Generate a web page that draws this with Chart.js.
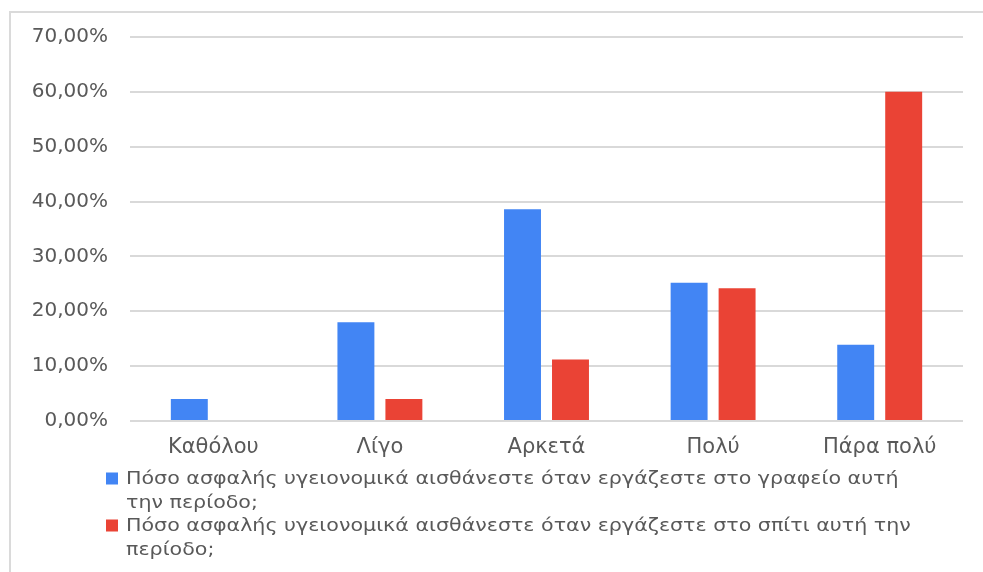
<!DOCTYPE html>
<html>
<head>
<meta charset="utf-8">
<style>
  html, body { margin: 0; padding: 0; background: #ffffff; }
  #wrap { width: 983px; height: 572px; position: relative; }
</style>
<script src="https://cdn.jsdelivr.net/npm/chart.js@4/dist/chart.umd.min.js"></script>
</head>
<body>
<div id="wrap"><canvas id="chart" width="983" height="572"></canvas></div>
<script>
// Categories and series (percent of respondents)
const categories = ["Καθόλου", "Λίγο", "Αρκετά", "Πολύ", "Πάρα πολύ"];
const officeValues = [4.0, 18.0, 38.6, 25.2, 13.9];
const homeValues = [0, 4.0, 11.2, 24.2, 60.0];
const officeLabelLines = ["Πόσο ασφαλής υγειονομικά αισθάνεστε όταν εργάζεστε στο γραφείο αυτή", "την περίοδο;"];
const homeLabelLines = ["Πόσο ασφαλής υγειονομικά αισθάνεστε όταν εργάζεστε στο σπίτι αυτή την", "περίοδο;"];
const yMin = 0, yMax = 70, yStep = 10;

const textColor = "#595959";
const gridColor = "#d9d9d9";
const fontFamily = "'DejaVu Sans', sans-serif";

// Light frame along the top and left edges of the chart box
const framePlugin = {
  id: "frame",
  beforeDraw(chart) {
    const ctx = chart.ctx;
    ctx.save();
    ctx.strokeStyle = "#dadada";
    ctx.lineWidth = 2;
    ctx.beginPath();
    ctx.moveTo(chart.width, 12);
    ctx.lineTo(10, 12);
    ctx.lineTo(10, chart.height);
    ctx.stroke();
    ctx.restore();
  }
};

// Legend below the plot, one wrapped entry per dataset (text set slightly wide)
const wrappedLegendPlugin = {
  id: "wrappedLegend",
  afterDraw(chart) {
    const ctx = chart.ctx;
    const area = chart.chartArea;
    const lineStep = 23.5;
    const textX = 126;
    const stretch = 1.145;
    let y = area.bottom + 58.5;
    ctx.save();
    ctx.font = "18px " + fontFamily;
    ctx.textBaseline = "middle";
    ctx.textAlign = "left";
    chart.data.datasets.forEach(ds => {
      ctx.fillStyle = ds.backgroundColor;
      ctx.fillRect(106, y - 7, 12, 12);
      ctx.fillStyle = textColor;
      ds.legendLines.forEach((line, i) => {
        ctx.save();
        ctx.translate(textX, y + i * lineStep);
        ctx.scale(stretch, 1);
        ctx.fillText(line, 0, 0);
        ctx.restore();
      });
      y += ds.legendLines.length * lineStep;
    });
    ctx.restore();
  }
};

new Chart(document.getElementById("chart"), {
  type: "bar",
  data: {
    labels: categories,
    datasets: [
      {
        label: officeLabelLines.join(" "),
        legendLines: officeLabelLines,
        data: officeValues,
        backgroundColor: "#4285f4"
      },
      {
        label: homeLabelLines.join(" "),
        legendLines: homeLabelLines,
        data: homeValues,
        backgroundColor: "#ea4335"
      }
    ]
  },
  options: {
    responsive: false,
    animation: false,
    categoryPercentage: 0.576,
    barPercentage: 0.77,
    layout: { padding: { left: 10, right: 20, top: 37, bottom: 111 } },
    plugins: {
      legend: { display: false },
      tooltip: { enabled: false }
    },
    scales: {
      x: {
        grid: { display: false, drawTicks: false },
        border: { display: false },
        ticks: {
          color: textColor,
          font: { family: fontFamily, size: 21 },
          padding: 14
        },
        afterFit(scale) { scale.height = 40; }
      },
      y: {
        min: yMin,
        max: yMax,
        grid: { color: gridColor, lineWidth: 2, drawTicks: false },
        border: { display: false },
        ticks: {
          stepSize: yStep,
          color: textColor,
          font: { family: fontFamily, size: 20 },
          padding: 22,
          callback: v => v.toFixed(2).replace(".", ",") + "%"
        },
        afterFit(scale) { scale.width = 120; }
      }
    }
  },
  plugins: [framePlugin, wrappedLegendPlugin]
});
</script>
</body>
</html>
